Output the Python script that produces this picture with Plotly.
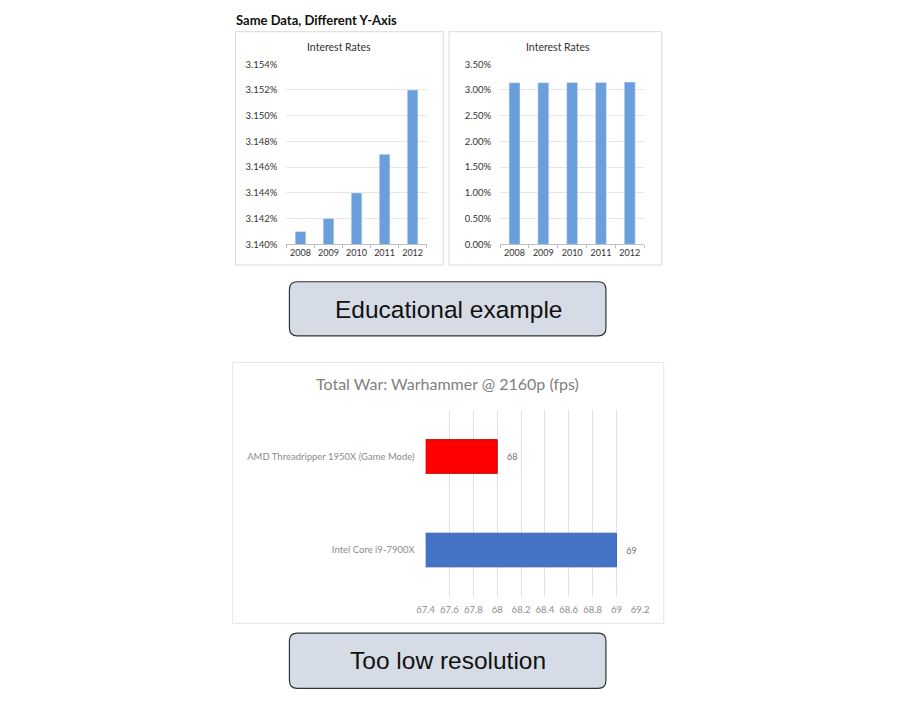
"""
Same data, different y-axis + low resolution bar chart
"""
import plotly.graph_objects as go

W, H = 897, 706
OFF = 8  # page body margin

# data
years = ["2008", "2009", "2010", "2011", "2012"]
interest_rates = [0.03141, 0.03142, 0.03144, 0.03147, 0.03152]

cpus = ["Intel Core i9-7900X", "AMD Threadripper 1950X (Game Mode)"]
fps = [69, 68]
cpu_colors = ["#4472C4", "#FF0000"]


def px_x(x):
    return (x - OFF) / W


def px_y(y):
    return 1 - (y - OFF) / H


def rounded_box(x0, y0, x1, y1, r):
    """rounded rectangle path in paper coords (input in screen pixels)"""
    a, b, c, d = px_x(x0), px_y(y0), px_x(x1), px_y(y1)
    rx, ry = r / W, r / H
    return (f"M {a + rx} {b} L {c - rx} {b} Q {c} {b} {c} {b - ry} "
            f"L {c} {d + ry} Q {c} {d} {c - rx} {d} "
            f"L {a + rx} {d} Q {a} {d} {a} {d + ry} "
            f"L {a} {b - ry} Q {a} {b} {a + rx} {b} Z")


fig = go.Figure()

bar_blue = "#6A9FDB"
fig.add_trace(go.Bar(x=years, y=interest_rates, marker_color=bar_blue,
                     xaxis="x", yaxis="y", showlegend=False))
fig.add_trace(go.Bar(x=years, y=interest_rates, marker_color=bar_blue,
                     xaxis="x2", yaxis="y2", showlegend=False))
fig.add_trace(go.Bar(y=cpus, x=fps, orientation="h", width=0.36,
                     marker=dict(color=cpu_colors,
                                 line=dict(color=["#3A62B0", "#C00000"], width=1)),
                     texttemplate="   %{x}", textposition="outside", cliponaxis=False,
                     textfont=dict(size=9, color="#707070", family="Lato"),
                     xaxis="x3", yaxis="y3", showlegend=False))

small_font = dict(size=9.5, color="#333333", family="Lato")
year_font = dict(size=9, color="#333333", family="Lato")
grid_c = "#E6E6E6"
gray_font = dict(size=9.5, color="#8C8C8C", family="Lato")

top_y = [px_y(242), px_y(59)]
cat_axis = dict(showgrid=False, showline=True, linecolor="#BFBFBF", ticks="outside",
                tickson="boundaries", ticklen=3, tickcolor="#BFBFBF", tickangle=0,
                tickfont=year_font, fixedrange=True)

fig.update_layout(
    width=W, height=H,
    margin=dict(l=0, r=0, t=0, b=0),
    plot_bgcolor="white", paper_bgcolor="white",
    bargap=0.62,
    xaxis=dict(domain=[px_x(283), px_x(426)], anchor="y", **cat_axis),
    yaxis=dict(domain=top_y, anchor="x", range=[0.0314, 0.03154], dtick=0.00002,
               tickformat=".3%", gridcolor=grid_c, tickfont=small_font, zeroline=False,
               ticks="", ticklabelstandoff=8),
    xaxis2=dict(domain=[px_x(501), px_x(648)], anchor="y2", **cat_axis),
    yaxis2=dict(domain=top_y, anchor="x2", range=[0, 0.035], dtick=0.005,
                tickformat=".2%", gridcolor=grid_c, tickfont=small_font, zeroline=False,
                ticks="", ticklabelstandoff=8),
    xaxis3=dict(domain=[px_x(425), px_x(644)], anchor="y3", range=[67.4, 69.2], dtick=0.2,
                showgrid=True, gridcolor="#E2E2E2", zeroline=False, showline=False,
                tickfont=gray_font, ticklabelstandoff=6),
    yaxis3=dict(domain=[px_y(600), px_y(410)], anchor="x3", showgrid=False, showline=False,
                tickfont=gray_font, ticklabelstandoff=10),
)

shapes = [
    dict(type="rect", xref="paper", yref="paper", x0=px_x(231), x1=px_x(443),
         y0=px_y(263), y1=px_y(26), line=dict(color="#D9D9D9", width=1)),
    dict(type="rect", xref="paper", yref="paper", x0=px_x(449), x1=px_x(666),
         y0=px_y(263), y1=px_y(26), line=dict(color="#D9D9D9", width=1)),
    dict(type="rect", xref="paper", yref="paper", x0=px_x(228), x1=px_x(668),
         y0=px_y(627), y1=px_y(362), line=dict(color="#E6E6E6", width=1)),
    dict(type="path", xref="paper", yref="paper", path=rounded_box(286, 280, 609, 335, 8),
         fillcolor="#D6DCE5", line=dict(color="#333333", width=1.2)),
    dict(type="path", xref="paper", yref="paper", path=rounded_box(286, 637, 609, 693, 8),
         fillcolor="#D6DCE5", line=dict(color="#333333", width=1.2)),
]
fig.update_layout(shapes=shapes)

annotations = [
    dict(text="<b>Same Data, Different Y-Axis</b>", x=px_x(229), y=px_y(14),
         xanchor="left", yanchor="middle",
         font=dict(size=13, color="#111111", family="Lato")),
    dict(text="Interest Rates", x=px_x(337), y=px_y(42), xanchor="center", yanchor="middle",
         font=dict(size=10.5, color="#333333", family="Lato")),
    dict(text="Interest Rates", x=px_x(560), y=px_y(42), xanchor="center", yanchor="middle",
         font=dict(size=10.5, color="#333333", family="Lato")),
    dict(text="Total War: Warhammer @ 2160p (fps)", x=px_x(447), y=px_y(383),
         xanchor="center", yanchor="middle",
         font=dict(size=16, color="#7F7F7F", family="Lato")),
    dict(text="Educational example", x=px_x(448), y=px_y(308), xanchor="center",
         yanchor="middle", font=dict(size=24.5, color="#111111", family="Liberation Sans")),
    dict(text="Too low resolution", x=px_x(448), y=px_y(665), xanchor="center",
         yanchor="middle", font=dict(size=24.5, color="#111111", family="Liberation Sans")),
]
for a in annotations:
    a.update(xref="paper", yref="paper", showarrow=False)
fig.update_layout(annotations=annotations)

fig.write_html("out.html")
